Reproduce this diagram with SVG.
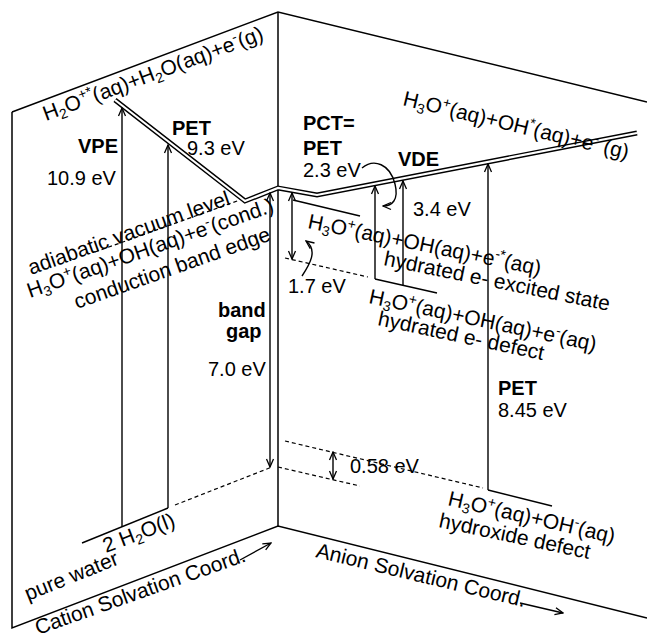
<svg xmlns="http://www.w3.org/2000/svg" width="647" height="641" viewBox="0 0 647 641">
<style>
.t{font-family:"Liberation Sans",Arial,sans-serif;font-size:20px;fill:#000}
.r{font-size:21px}
.b{font-weight:bold}
.s{font-size:14px}
.ln{stroke:#000;stroke-width:1.4;fill:none}
.fr{stroke:#000;stroke-width:1.5;fill:none}
.ds{stroke:#000;stroke-width:1.2;fill:none;stroke-dasharray:4 3}
</style>
<defs>
<marker id="ah" markerWidth="10" markerHeight="10" viewBox="-9 -5 10 10" refX="0" refY="0" orient="auto-start-reverse" markerUnits="userSpaceOnUse">
<path d="M-8,-3.5 L0,0 L-8,3.5" fill="none" stroke="#000" stroke-width="1.3"/>
</marker>
</defs>
<rect width="647" height="641" fill="#fff"/>

<g id="frame">
<path class="fr" d="M12,112 L278,12 L647,102"/>
<path class="fr" d="M12,112 L12,628 L278,526 L647,618"/>
<path class="fr" d="M278,12 L278,526"/>
</g>

<g id="vacuum-level">
<path d="M115,100 L245,201 L278,188 L317,195 L637,133" fill="none" stroke="#000" stroke-width="5" stroke-linejoin="miter"/>
<path d="M115,100 L245,201 L278,188 L317,195 L637,133" fill="none" stroke="#fff" stroke-width="2.2" stroke-linejoin="miter"/>
</g>

<g id="connectors">
<line class="ln" x1="122" y1="527" x2="122" y2="108" marker-end="url(#ah)"/>
<line class="ln" x1="168" y1="508" x2="168" y2="145" marker-end="url(#ah)"/>
<line class="ln" x1="270" y1="193" x2="270" y2="467" marker-start="url(#ah)" marker-end="url(#ah)"/>
<line class="ln" x1="292" y1="193" x2="292" y2="259" marker-start="url(#ah)" marker-end="url(#ah)"/>
<line class="ln" x1="375" y1="279" x2="375" y2="186" marker-end="url(#ah)"/>
<line class="ln" x1="403" y1="285" x2="403" y2="181" marker-end="url(#ah)"/>
<line class="ln" x1="488" y1="490" x2="488" y2="164" marker-end="url(#ah)"/>
<line class="ln" x1="333" y1="452" x2="333" y2="479" marker-start="url(#ah)" marker-end="url(#ah)"/>
<path class="ln" d="M302,276 C310,264 318,250 306,241" marker-end="url(#ah)"/>
<path class="ln" d="M362,168 C374,158 390,164 395,184 C399,200 392,206 383,206" marker-end="url(#ah)"/>
<line class="ln" x1="240" y1="560" x2="271" y2="543" marker-end="url(#ah)"/>
<line class="ln" x1="520" y1="603" x2="563" y2="613" marker-end="url(#ah)"/>
<line class="ds" x1="95" y1="252" x2="240" y2="200"/>
</g>

<g id="pure-water">
<line class="ln" x1="82" y1="543" x2="168" y2="508"/>
<line class="ds" x1="175" y1="505" x2="272" y2="467"/>
<text class="t r" transform="translate(106,553) rotate(-21)">2 H<tspan class="s" dy="4">2</tspan><tspan dy="-4">O(l)</tspan></text>
<text class="t r" transform="translate(28,601) rotate(-22)">pure water</text>
</g>

<g id="vertical-ionization">
<text class="t r" transform="translate(46,121) rotate(-20.5)">H<tspan class="s" dy="4">2</tspan><tspan dy="-4">O</tspan><tspan class="s" dy="-8">+*</tspan><tspan dy="8">(aq)+H</tspan><tspan class="s" dy="4">2</tspan><tspan dy="-4">O(aq)+e</tspan><tspan class="s" dy="-8">-</tspan><tspan dy="8">(g)</tspan></text>
<text class="t b" x="78" y="153">VPE</text>
<text class="t" x="47" y="185">10.9 eV</text>
<text class="t b" x="172" y="135">PET</text>
<text class="t" x="187" y="155">9.3 eV</text>
</g>

<g id="conduction-band">
<text class="t r" transform="translate(31,275) rotate(-19.5)">adiabatic vacuum level</text>
<text class="t r" transform="translate(30,298) rotate(-19.5)">H<tspan class="s" dy="4">3</tspan><tspan dy="-4">O</tspan><tspan class="s" dy="-8">+</tspan><tspan dy="8">(aq)+OH(aq)+e</tspan><tspan class="s" dy="-8">-</tspan><tspan dy="8">(cond.)</tspan></text>
<text class="t r" transform="translate(77,309) rotate(-19.5)">conduction band edge</text>
</g>

<g id="band-gap">
<text class="t b" x="218" y="317">band</text>
<text class="t b" x="226" y="338">gap</text>
<text class="t" x="208" y="376">7.0 eV</text>
</g>

<g id="excited-state">
<line class="ln" x1="293" y1="200" x2="360" y2="216"/>
<text class="t b" x="303" y="130">PCT=</text>
<text class="t b" x="303" y="155">PET</text>
<text class="t" x="303" y="177">2.3 eV</text>
<text class="t r" transform="translate(307,228) rotate(11.5)">H<tspan class="s" dy="4">3</tspan><tspan dy="-4">O</tspan><tspan class="s" dy="-8">+</tspan><tspan dy="8">(aq)+OH(aq)+e</tspan><tspan class="s" dy="-8">-*</tspan><tspan dy="8">(aq)</tspan></text>
<text class="t r" transform="translate(383,265) rotate(11.5)">hydrated e- excited state</text>
</g>

<g id="electron-defect">
<line class="ds" x1="285" y1="258" x2="368" y2="277"/>
<line class="ln" x1="375" y1="279" x2="437" y2="293"/>
<text class="t" x="288" y="293">1.7 eV</text>
<text class="t b" x="398" y="166">VDE</text>
<text class="t" x="413" y="216">3.4 eV</text>
<text class="t r" transform="translate(368,303) rotate(12)">H<tspan class="s" dy="4">3</tspan><tspan dy="-4">O</tspan><tspan class="s" dy="-8">+</tspan><tspan dy="8">(aq)+OH(aq)+e</tspan><tspan class="s" dy="-8">-</tspan><tspan dy="8">(aq)</tspan></text>
<text class="t r" transform="translate(377,325) rotate(12)">hydrated e- defect</text>
</g>

<g id="ionized-top">
<text class="t r" transform="translate(402,105) rotate(13.5)">H<tspan class="s" dy="4">3</tspan><tspan dy="-4">O</tspan><tspan class="s" dy="-8">+</tspan><tspan dy="8">(aq)+OH</tspan><tspan class="s" dy="-8">*</tspan><tspan dy="8">(aq)+e</tspan><tspan class="s" dy="-8">-</tspan><tspan dy="8"> (g)</tspan></text>
</g>

<g id="hydroxide-defect">
<line class="ln" x1="488" y1="490" x2="552" y2="506"/>
<text class="t" x="350" y="473">0.58 eV</text>
<line class="ds" x1="285" y1="441" x2="483" y2="488"/>
<line class="ds" x1="278" y1="467" x2="360" y2="486"/>
<text class="t b" x="498" y="395">PET</text>
<text class="t" x="498" y="417">8.45 eV</text>
<text class="t r" transform="translate(447,505) rotate(13)">H<tspan class="s" dy="4">3</tspan><tspan dy="-4">O</tspan><tspan class="s" dy="-8">+</tspan><tspan dy="8">(aq)+OH</tspan><tspan class="s" dy="-8">-</tspan><tspan dy="8">(aq)</tspan></text>
<text class="t r" transform="translate(438,527) rotate(12)">hydroxide defect</text>
</g>

<g id="axes-labels">
<text class="t r" transform="translate(38,635) rotate(-19.5)">Cation Solvation Coord.</text>
<text class="t r" transform="translate(315,557) rotate(13.5)">Anion Solvation Coord.</text>
</g>
</svg>
